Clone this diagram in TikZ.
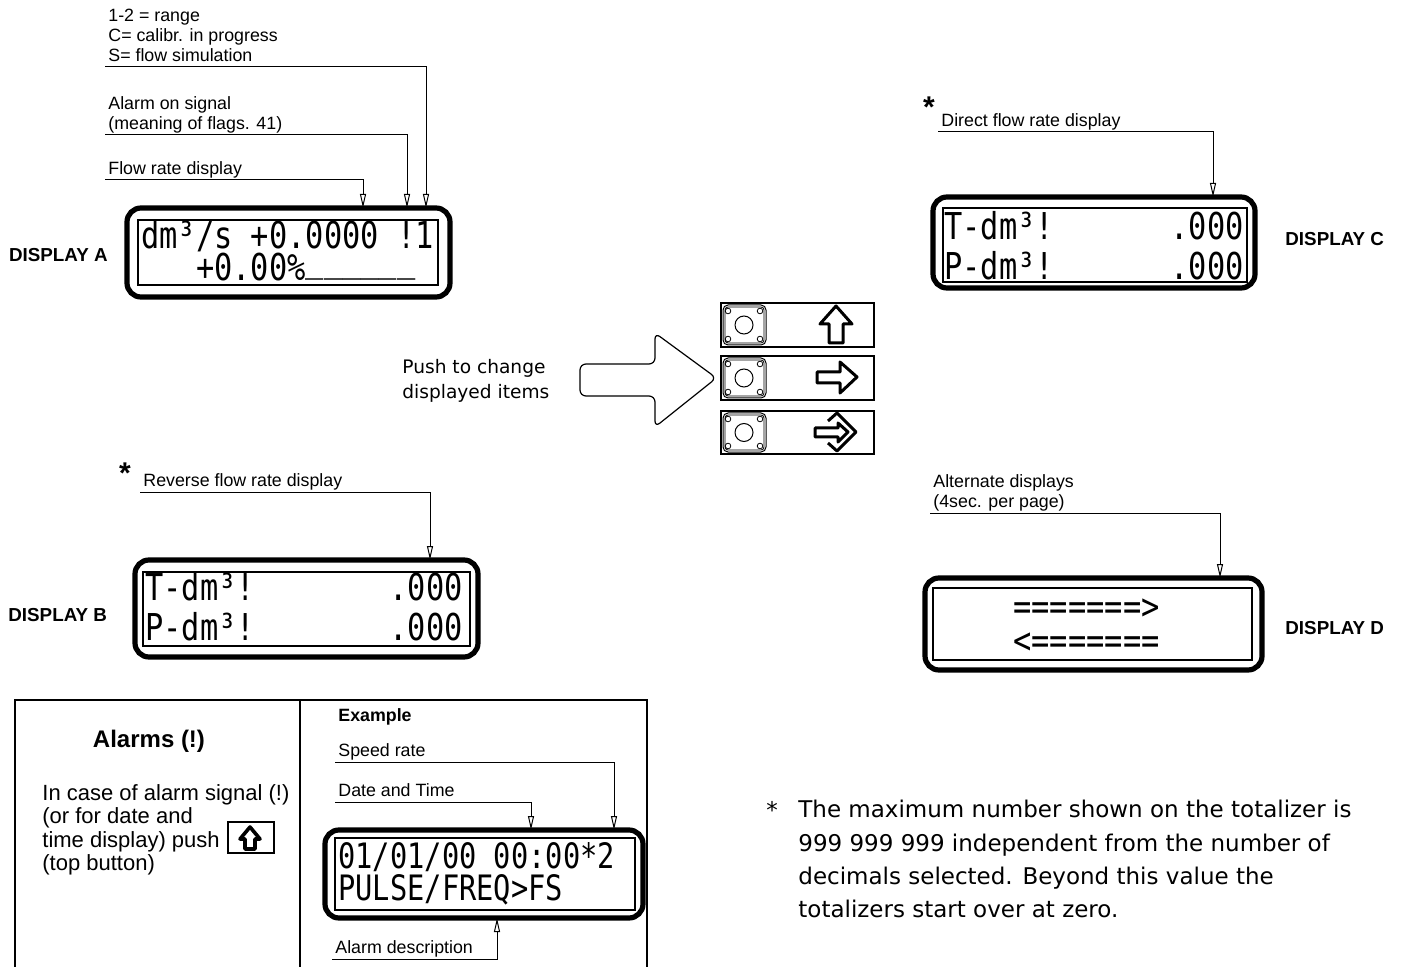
\documentclass[tikz,border=0pt]{standalone}
\usepackage{fontspec}
\setmainfont{Liberation Sans}
\newfontfamily\notefont{DejaVu Sans}
\newfontfamily\lcdfont[FakeStretch=0.82]{DejaVu Sans Mono}
\usetikzlibrary{arrows.meta,fit}

\tikzset{
  lbl/.style={anchor=south west,inner xsep=1.5pt,inner ysep=0.6pt,align=left,
    font=\fontsize{8.9}{10}\selectfont,execute at end node=\vphantom{p}},
  lead/.style={line width=0.5pt,-{Triangle[open,width=3pt,length=7pt]}},
  dispname/.style={inner sep=0pt,font=\fontsize{9.4}{11}\selectfont\bfseries},
  star/.style={inner sep=0pt,anchor=base,font=\fontsize{15}{15}\selectfont\bfseries},
  lcdframe/.style={draw,line width=2.6pt,rounded corners=7pt,inner sep=0pt},
  lcdwin/.style={draw,line width=0.7pt,inner sep=0pt},
  lcd/.style={inner sep=0pt,anchor=base west,text height=13.5pt,text depth=0pt,
    font=\lcdfont\fontsize{18.5}{18.5}\selectfont},
  lcdr/.style={lcd,anchor=base east},
  lcdtwo/.style={inner sep=0pt,anchor=south west,align=left,
    font=\lcdfont\fontsize{18.5}{16}\selectfont},
  lcdsmall/.style={lcd,text height=12.8pt,font=\lcdfont\fontsize{17.5}{17.5}\selectfont},
  btnbox/.style={draw,line width=0.6pt,inner sep=0pt},
  icon/.style={line width=1.5pt,line join=round},
  note/.style={inner sep=0pt,anchor=north west,align=left,font=\notefont\fontsize{11.5}{16.6}\selectfont}
}

\begin{document}
\begin{tikzpicture}[x=0.5pt,y=-0.5pt]
\useasboundingbox (0,0) rectangle (1406,967);

% Display A
\node[lcdframe,fit={(127,208) (450,297)}] (dispA) {};
\node[lcdwin,fit={(138,220) (438,285)}] (winA) {};
\node[lcdtwo] (a12) at (141,281) {dm³/s +0.0000 !1\\\phantom{dm³}+0.00\%\raisebox{0.24em}{\_\_\_\_\_\_}};
\node[dispname,anchor=east] (nameA) at (108,255) {DISPLAY A};
\node[lbl] (rangelbl) at (105,67) {1-2 = range\\C= calibr. in progress\\S= flow simulation};
\node[lbl] (siglbl) at (105,135) {Alarm on signal\\(meaning of flags. 41)};
\node[lbl] (flowlbl) at (105,180) {Flow rate display};
\coordinate (pA1) at (363,208);
\coordinate (pA2) at (407,208);
\coordinate (pA3) at (426,208);
\draw[lead] (flowlbl.south west) -| (pA1);
\draw[lead] (siglbl.south west) -| (pA2);
\draw[lead] (rangelbl.south west) -| (pA3);

% Display C
\node[lcdframe,fit={(933,197) (1255,288)}] (dispC) {};
\node[lcdwin,fit={(943,208) (1247,282)}] (winC) {};
\node[lcd] (c1) at (944,240) {T-dm³!};
\node[lcdr] (c1r) at (1244,240) {.000};
\node[lcd] (c2) at (944,280) {P-dm³!};
\node[lcdr] (c2r) at (1244,280) {.000};
\node[star] (starC) at (929,118) {*};
\node[lbl] (dirlbl) at (938,132) {Direct flow rate display};
\coordinate (pC) at (1213,197);
\draw[lead] (dirlbl.south west) -| (pC);
\node[dispname,anchor=west] (nameC) at (1285,239) {DISPLAY C};

% Display B
\node[lcdframe,fit={(135,560) (478,657)}] (dispB) {};
\node[lcdwin,fit={(143,572) (470,646)}] (winB) {};
\node[lcd] (b1) at (145,600) {T-dm³!};
\node[lcdr] (b1r) at (463,600) {.000};
\node[lcd] (b2) at (145,640) {P-dm³!};
\node[lcdr] (b2r) at (463,640) {.000};
\node[star] (starB) at (125,483) {*};
\node[lbl] (revlbl) at (140,492) {Reverse flow rate display};
\coordinate (pB) at (430,560);
\draw[lead] (revlbl.south west) -| (pB);
\node[dispname,anchor=west] (nameB) at (8,615) {DISPLAY B};

% Display D
\node[lcdframe,fit={(925,578) (1262,670)}] (dispD) {};
\node[lcdwin,fit={(933,588) (1252,660)}] (winD) {};
\node[lcd] (d1) at (1013,619) {=======>};
\node[lcd] (d2) at (1013,653) {<=======};
\node[lbl] (altlbl) at (930,513) {Alternate displays\\(4sec. per page)};
\coordinate (pD) at (1220,578);
\draw[lead] (altlbl.south west) -| (pD);
\node[dispname,anchor=west] (nameD) at (1285,628) {DISPLAY D};

% Keypad
\foreach \t/\b/\n in {303/347/up,356/400/right,411/454/enter}{
  \node[btnbox,fit={(721,\t) (874,\b)}] (btn\n) {};
  \draw[line width=0.5pt,rounded corners=2.5pt] (723,\t+2) rectangle (766,\b-2);
  \draw[line width=0.4pt,rounded corners=1.5pt] (725,\t+4) rectangle (764,\b-4);
  \foreach \cx in {728,760}
    \foreach \cy in {\t+8,\b-8}
      \draw[line width=0.4pt] (\cx,\cy) circle (2.8);
  \draw[line width=0.5pt] (744,{(\t+\b)/2}) circle (9);
}
\draw[icon] (836,306) -- (852,324) -- (843,324) -- (843,343) -- (829,343) -- (829,324) -- (820,324) -- cycle;
\draw[icon] (857,377) -- (840,362) -- (840,372) -- (817,372) -- (817,383) -- (840,383) -- (840,393) -- cycle;
\draw[icon] (828,421) -- (837,413) -- (856,432) -- (837,451) -- (828,443);
\draw[icon] (848,432) -- (838,423) -- (838,428) -- (815,428) -- (815,437) -- (838,437) -- (838,442) -- cycle;

% Push arrow
\draw[line width=0.6pt,rounded corners=3pt] (655,364) -- (580,364) -- (580,396) -- (655,396) -- (655,427)
  -- ([xshift=-2pt]btnright.west) -- (655,333) -- cycle;
\node[inner sep=0pt,anchor=north west,align=left,font=\notefont\fontsize{9.3}{12.5}\selectfont] (pushtxt) at (402,359) {Push to change\\displayed items};

% Alarm table
\draw[line width=0.7pt] (15,967) -- (15,700) -- (647,700) -- (647,967);
\draw[line width=0.7pt] (300,700) -- (300,967);
\node[anchor=base,inner sep=0pt,font=\fontsize{12}{14}\selectfont\bfseries] (alarmtitle) at (149,747) {Alarms (!)};
\node[anchor=north west,inner sep=0pt,align=left,font=\fontsize{11}{11.7}\selectfont] (alarmtxt) at (42,784) {In case of alarm signal (!)\\(or for date and\\time display) push\\(top button)};
\node[btnbox,fit={(228,822) (274,853)}] (topbtn) {};
\draw[line width=1.8pt,line join=round] (250,827) -- (260,839) -- (255,839) -- (255,849) -- (245,849) -- (245,839) -- (240,839) -- cycle;

% Example display
\node[anchor=base west,inner sep=0pt,font=\fontsize{8.9}{10}\selectfont\bfseries] (extitle) at (338,721) {Example};
\node[lcdframe,fit={(325,830) (643,918)}] (dispEx) {};
\node[lcdwin,fit={(335,838) (635,910)}] (winEx) {};
\node[lcdsmall] (e1) at (338,868) {01/01/00 00:00*2};
\node[lcdsmall] (e2) at (338,900) {PULSE/FREQ>FS};
\node[lbl] (speedlbl) at (335,762) {Speed rate};
\node[lbl] (datelbl) at (335,802) {Date and Time};
\node[lbl] (desclbl) at (332,959) {Alarm description};
\coordinate (pEx1) at (531,830);
\coordinate (pEx2) at (614,830);
\coordinate (pEx3) at (497,918);
\draw[lead] (datelbl.south west) -| (pEx1);
\draw[lead] (speedlbl.south west) -| (pEx2);
\draw[lead] (desclbl.south west) -| (pEx3);

% Note
\node[inner sep=0pt,anchor=base,font=\notefont\fontsize{11.5}{16.6}\selectfont] (notestar) at (772,818) {*};
\node[note] (notetxt) at (798,800) {The maximum number shown on the totalizer is\\999 999 999 independent from the number of\\decimals selected. Beyond this value the\\totalizers start over at zero.};
\end{tikzpicture}
\end{document}
